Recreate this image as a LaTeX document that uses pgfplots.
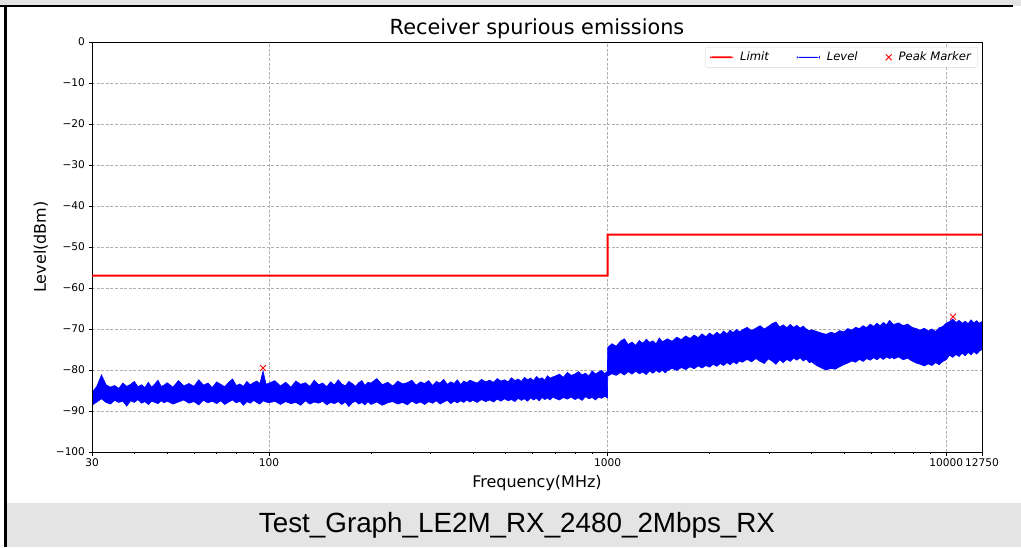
\documentclass[border=0pt]{standalone}
\usepackage{pgfplots}
\pgfplotsset{compat=1.18}
\usepackage{pgfplotstable}
\usepackage{fontspec}
\setmainfont{DejaVu Sans}
\newfontfamily\capfont{Liberation Sans}
\definecolor{bandgray}{HTML}{E4E4E4}
\definecolor{gridgray}{HTML}{B0B0B0}
\definecolor{limred}{RGB}{255,0,0}
\definecolor{levblue}{RGB}{0,0,255}
\pgfplotsset{limleg/.style={legend image code/.code={\fill[##1] (0pt,-0.9pt) rectangle (23pt,0.9pt);}}}
\pgfplotsset{levleg/.style={legend image code/.code={\fill[##1] (0pt,-0.5pt) rectangle (23pt,0.5pt);}}}

\pgfplotstableread{
f hi lo
30 -85.5 -88.6
31 -84.0 -87.8
32 -81.2 -87.0
33 -83.6 -87.9
34 -84.2 -88.3
35 -83.8 -87.4
36 -84.5 -87.9
37 -83.2 -87.6
38 -84.0 -88.8
39 -83.5 -87.5
40 -82.8 -87.9
41 -84.1 -87.2
42 -83.6 -88.1
43 -84.3 -87.7
44 -83.0 -88.4
45 -84.2 -87.6
46 -83.4 -87.9
47 -82.5 -88.2
48 -84.0 -87.5
49 -83.7 -88.0
50 -83.1 -87.6
52 -84.2 -88.3
54 -82.6 -87.8
56 -83.9 -87.3
58 -83.3 -88.1
60 -84.0 -87.7
62 -82.4 -88.5
64 -83.7 -87.4
66 -83.2 -88.0
68 -84.3 -87.6
70 -82.9 -88.2
72 -83.5 -87.5
74 -84.1 -88.4
76 -83.0 -87.8
78 -82.2 -87.3
80 -83.8 -88.0
82 -83.4 -87.6
84 -84.0 -88.6
86 -82.8 -87.7
88 -83.6 -88.1
90 -83.1 -87.4
92 -82.7 -87.9
94 -83.3 -88.3
96 -80.3 -87.5
98 -83.5 -87.8
100 -83.2 -88.0
104 -82.6 -87.6
108 -83.9 -88.4
112 -83.0 -87.7
116 -84.2 -88.2
120 -82.7 -87.9
124 -83.5 -88.6
128 -83.1 -87.5
132 -84.0 -88.3
136 -82.5 -87.8
140 -83.6 -88.1
144 -83.2 -87.6
148 -84.1 -88.5
152 -82.9 -87.9
156 -83.7 -88.2
160 -82.4 -87.7
164 -83.4 -88.4
168 -83.9 -87.8
172 -82.8 -88.9
176 -83.3 -88.0
180 -84.0 -87.6
184 -83.1 -88.3
188 -82.6 -87.9
192 -83.8 -88.5
196 -83.0 -87.7
200 -83.2 -88.4
208 -82.1 -87.8
216 -83.6 -88.6
224 -83.0 -88.0
232 -83.9 -87.7
240 -82.7 -88.3
248 -83.4 -87.9
256 -83.1 -88.5
264 -82.5 -87.6
272 -83.7 -88.2
280 -82.9 -87.8
288 -83.3 -88.4
296 -82.6 -87.7
304 -83.8 -88.1
312 -82.8 -87.5
320 -83.2 -88.3
328 -82.3 -87.8
336 -83.5 -87.4
344 -82.9 -88.2
352 -83.3 -87.6
360 -82.4 -88.0
368 -83.6 -87.5
376 -82.7 -87.9
384 -83.1 -87.3
392 -82.5 -87.8
400 -82.8 -87.4
412 -83.2 -87.9
424 -82.3 -87.2
436 -82.9 -87.7
448 -82.5 -87.3
460 -83.0 -87.8
472 -82.1 -87.1
484 -82.7 -87.6
496 -82.4 -87.0
508 -82.9 -87.5
520 -81.9 -87.2
532 -82.6 -87.7
544 -82.2 -86.9
556 -82.8 -87.4
568 -81.8 -87.0
580 -82.4 -87.6
592 -82.0 -86.8
604 -82.6 -87.3
616 -81.6 -86.9
628 -82.2 -87.5
640 -81.9 -86.7
652 -82.5 -87.2
664 -81.4 -86.8
676 -82.0 -87.3
688 -81.7 -86.6
700 -81.5 -86.9
720 -81.0 -87.3
740 -81.8 -86.7
760 -80.6 -87.1
780 -81.3 -86.6
800 -81.0 -87.2
820 -80.4 -86.8
840 -81.2 -87.4
860 -80.8 -86.5
880 -81.5 -87.0
900 -80.2 -86.7
920 -81.0 -87.3
940 -80.5 -86.6
960 -80.1 -86.9
980 -80.9 -86.4
999 -80.3 -86.8
1000 -74.5 -81.5
1030 -73.6 -80.9
1060 -74.2 -81.3
1090 -73.0 -80.6
1120 -72.4 -81.2
1150 -73.8 -80.4
1180 -73.2 -81.0
1210 -74.0 -80.3
1240 -72.8 -80.9
1270 -73.5 -80.5
1300 -72.5 -81.1
1330 -73.3 -80.2
1360 -72.9 -80.8
1390 -73.6 -80.1
1420 -72.2 -80.6
1450 -73.1 -80.0
1480 -72.7 -80.7
1500 -72.4 -80.2
1550 -73.0 -79.6
1600 -72.0 -80.1
1650 -72.6 -79.4
1700 -71.7 -79.9
1750 -72.3 -79.2
1800 -71.5 -79.7
1850 -72.1 -79.0
1900 -71.2 -79.5
1950 -71.9 -78.9
2000 -71.0 -79.3
2050 -71.6 -78.6
2100 -70.8 -79.1
2150 -71.4 -78.4
2200 -70.5 -78.9
2250 -71.2 -78.2
2300 -70.3 -78.7
2350 -70.9 -78.0
2400 -70.1 -78.5
2450 -70.7 -77.8
2500 -70.2 -78.1
2580 -69.6 -77.4
2660 -70.4 -78.0
2740 -69.8 -77.2
2820 -69.2 -77.9
2900 -70.0 -78.4
2980 -69.4 -77.3
3060 -68.7 -77.8
3140 -68.3 -78.6
3220 -69.5 -77.5
3300 -69.0 -78.2
3380 -69.7 -77.4
3460 -68.9 -77.9
3540 -69.6 -77.1
3620 -69.1 -77.6
3700 -69.8 -77.0
3780 -69.3 -77.8
3860 -70.0 -77.3
3940 -70.4 -78.2
4000 -70.2 -78.0
4140 -70.6 -78.9
4280 -71.0 -79.5
4420 -71.3 -80.0
4560 -70.8 -79.6
4700 -71.1 -79.8
4840 -70.4 -79.2
4980 -70.7 -78.7
5120 -69.9 -78.3
5260 -70.3 -77.8
5400 -69.6 -78.1
5540 -69.9 -77.4
5680 -69.2 -77.9
5820 -69.7 -77.2
5960 -68.8 -77.6
6100 -69.4 -77.0
6240 -68.6 -77.5
6380 -69.2 -76.9
6520 -68.4 -77.4
6660 -69.0 -76.8
6800 -67.9 -77.2
6940 -68.7 -76.9
7000 -68.9 -77.3
7230 -68.5 -76.8
7460 -69.2 -77.5
7690 -68.8 -77.1
7920 -69.6 -77.8
8150 -69.9 -78.3
8380 -70.3 -78.6
8610 -69.8 -79.0
8840 -70.5 -78.5
9070 -70.0 -78.9
9300 -70.6 -78.2
9530 -69.7 -78.7
9760 -69.4 -77.9
9990 -68.6 -77.5
10220 -68.2 -76.4
10450 -67.6 -76.9
10680 -68.4 -76.2
10910 -67.9 -76.7
11140 -68.6 -75.9
11370 -68.1 -76.5
11600 -68.7 -75.7
11830 -67.8 -76.3
12060 -68.5 -75.5
12290 -68.0 -76.1
12520 -68.6 -75.4
12750 -68.2 -75.0
}\lev

\begin{document}
\begin{tikzpicture}
\path[use as bounding box] (0pt,0pt) rectangle (1021pt,547pt);
% frame decorations
\fill[bandgray] (0pt,541pt) rectangle (1021pt,547pt);
\draw[black, line width=2pt] (0pt,541pt) -- (1013pt,541pt);
\fill[bandgray] (7pt,0pt) rectangle (1021pt,44pt);
\draw[black, line width=2.5pt] (5.5pt,0pt) -- (5.5pt,541pt);
\node[font=\capfont\fontsize{27.8}{30}\selectfont, anchor=center] at (517pt,22pt) {Test\_Graph\_LE2M\_RX\_2480\_2Mbps\_RX};

% axis 1: grid and the Level band only
\begin{axis}[
  at={(92pt,95pt)}, anchor=south west,
  scale only axis, width=890pt, height=410pt,
  xmode=log, log basis x=10,
  xmin=30, xmax=12750, ymin=-100, ymax=0,
  stack plots=y,
  xtick={30,100,1000,10000,12750},
  ytick={-100,-90,...,0},
  xticklabels={}, yticklabels={},
  major tick length=0pt, minor tick length=0pt,
  axis line style={draw=none},
  grid=major,
  major grid style={gridgray, line width=0.6pt, dash pattern=on 3pt off 1.6pt},
]
\addplot[draw=none, mark=none, forget plot] table[x=f, y=lo] {\lev};
\addplot[draw=levblue, fill=levblue, mark=none, line width=0.7pt, forget plot]
  table[x=f, y expr=\thisrow{hi}-\thisrow{lo}] {\lev} \closedcycle;
\end{axis}

% axis 2: frame, ticks, labels, limit, peak markers and legend
\begin{axis}[
  at={(92pt,95pt)}, anchor=south west,
  scale only axis, width=890pt, height=410pt,
  xmode=log, log basis x=10,
  xmin=30, xmax=12750, ymin=-100, ymax=0,
  xtick={30,100,1000,10000,12750},
  xticklabels={30,100,1000,10000,12750},
  minor xtick={40,50,60,70,80,90,200,300,400,500,600,700,800,900,2000,3000,4000,5000,6000,7000,8000,9000},
  ytick={-100,-90,...,0},
  yticklabels={−100,−90,−80,−70,−60,−50,−40,−30,−20,−10,0},
  xtick pos=left, ytick pos=left,
  tick align=outside,
  major tick length=3.5pt, minor tick length=2pt,
  every tick/.style={black, line width=0.8pt},
  minor tick style={black, line width=0.6pt},
  axis line style={black, line width=0.8pt},
  grid=none,
  tick label style={font=\fontsize{10.6}{12}\selectfont},
  title={Receiver spurious emissions},
  title style={font=\fontsize{20.8}{24}\selectfont, at={(0.5,1)}, anchor=south, yshift=-6pt},
  xlabel={Frequency(MHz)},
  ylabel={Level(dBm)},
  label style={font=\fontsize{16}{18}\selectfont},
  xlabel style={yshift=-1pt},
  ylabel style={yshift=1pt},
  legend columns=3,
  legend style={at={(0.9955,0.988)}, anchor=north east, draw=gray!30, rounded corners=2.5pt,
    font=\itshape\fontsize{11.6}{13}\selectfont, inner xsep=5pt, inner ysep=3pt,
    /tikz/every odd column/.append style={column sep=5pt},
    /tikz/every even column/.append style={column sep=26pt}},
  legend cell align=left,
]
% Limit: -57 dBm up to 1000 MHz, -47 dBm above (drawn as a 2 px red band)
\addplot[fill=limred, draw=none, mark=none, limleg]
  coordinates {(30,-57.25) (1006.8,-57.25) (1006.8,-47.25) (12750,-47.25)
               (12750,-46.75) (993.2,-46.75) (993.2,-56.75) (30,-56.75)};
\addlegendentry{Limit}
\addplot[fill=levblue, draw=none, mark=none, levleg]
  coordinates {(150,-85.7) (152,-85.7) (152,-85.3) (150,-85.3)};
\addlegendentry{Level}
\addplot[only marks, draw=limred, color=limred, mark=x, mark size=4.2pt, line width=0.9pt]
  coordinates {(96,-79.5) (10470,-67.0)};
\addlegendentry{Peak Marker}
\end{axis}
\end{tikzpicture}
\end{document}
